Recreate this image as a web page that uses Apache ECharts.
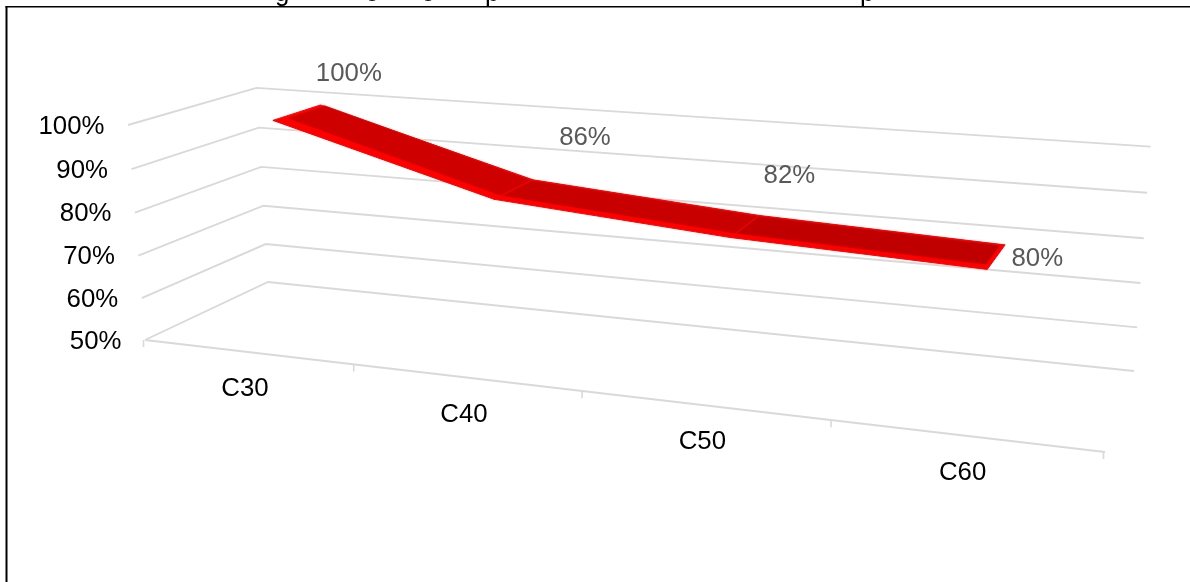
<!DOCTYPE html>
<html>
<head>
<meta charset="utf-8">
<style>
  html, body { margin: 0; padding: 0; background: #fff; }
  #chart { width: 1190px; height: 582px; }
</style>
<script src="https://cdn.jsdelivr.net/npm/echarts@6/dist/echarts.min.js"></script>
</head>
<body>
<div id="chart"></div>
<script>
// Chart values
const categories = ['C30', 'C40', 'C50', 'C60'];
const seriesValues = [100, 86, 82, 80];
const valueLabels = ['100%', '86%', '82%', '80%'];
const tickValues = [50, 60, 70, 80, 90, 100];
const tickLabels = ['50%', '60%', '70%', '80%', '90%', '100%'];

// Room corners on the floor and the top of the near-left edge, in pixels
const floorNearLeft = [145, 340];
const floorNearRight = [1105, 452];
const floorFarRight = [1134, 371];
const floorFarLeft = [268, 282];
const topNearLeft = [128, 125];
const heightPerspective = -0.032;

// Depth range of the ribbon inside the room
const ribbonFar = 0.7;
const ribbonNear = 0.3;
const ribbonSurfaceFar = 0.69;
const ribbonSurfaceNear = 0.365;
const ribbonEndInset = 0.004;

const segmentColors = ['#cf0000', '#c80000', '#c00000'];
const edgeColor = '#ff0000';
const gridColor = '#d9d9d9';
const fontStack = '25.8px "Liberation Sans", Arial, sans-serif';

// Value label offsets from the ribbon's near edge at each category
const labelShifts = [[76, -47], [91, -61], [59, -62], [50, -11]];

// Projective map from room coordinates (along, depth, height, all 0..1) to pixels
function buildProjection() {
  const [x0, y0] = floorNearLeft, [x1, y1] = floorNearRight;
  const [x2, y2] = floorFarRight, [x3, y3] = floorFarLeft;
  const sx = x0 - x1 + x2 - x3, sy = y0 - y1 + y2 - y3;
  const dx1 = x1 - x2, dx2 = x3 - x2, dy1 = y1 - y2, dy2 = y3 - y2;
  const det = dx1 * dy2 - dx2 * dy1;
  const c = (sx * dy2 - dx2 * sy) / det;
  const d = (dx1 * sy - sx * dy1) / det;
  const e = heightPerspective;
  const ax = [x1 - x0 + c * x1, x3 - x0 + d * x3, topNearLeft[0] * (1 + e) - x0];
  const ay = [y1 - y0 + c * y1, y3 - y0 + d * y3, topNearLeft[1] * (1 + e) - y0];
  return (u, v, h) => {
    const w = 1 + c * u + d * v + e * h;
    return [
      (x0 + ax[0] * u + ax[1] * v + ax[2] * h) / w,
      (y0 + ay[0] * u + ay[1] * v + ay[2] * h) / w
    ];
  };
}
const project = buildProjection();

// Read the hidden cartesian axes and turn their pixels into 0..1 room coordinates
function roomPoint(params, api, catIndex, value) {
  const sys = params.coordSys;
  const p = api.coord([catIndex, value]);
  return { u: (p[0] - sys.x) / sys.width, h: (sys.y + sys.height - p[1]) / sys.height };
}

function label(text, pos, fill, align) {
  return {
    type: 'text',
    style: {
      text: text, x: pos[0], y: pos[1], fill: fill, font: fontStack,
      align: align, verticalAlign: 'middle'
    }
  };
}

function renderWallLine(params, api) {
  const r = roomPoint(params, api, 0, api.value(1));
  const near = project(0, 0, r.h);
  const far = project(0, 1, r.h);
  const right = project(1, 1, r.h);
  return {
    type: 'group',
    children: [
      {
        type: 'polyline',
        shape: { points: [near, far, right] },
        style: { stroke: gridColor, lineWidth: 1.9, fill: null, lineJoin: 'miter' }
      },
      label(tickLabels[params.dataIndex], [near[0] - 23.5, near[1] + 1.5], '#000000', 'right')
    ]
  };
}

function renderCategory(params, api) {
  const sys = params.coordSys;
  const i = api.value(0);
  const r = roomPoint(params, api, i, tickValues[0]);
  const half = api.size([1, 0])[0] / 2 / sys.width;
  const base = project(r.u, 0, 0);
  const children = [label(categories[i], [base[0] - 3, base[1] + 37], '#000000', 'center')];
  const edges = [r.u - half];
  if (i === categories.length - 1) edges.push(r.u + half);
  if (i === 0) {
    children.push({
      type: 'line',
      shape: {
        x1: floorNearLeft[0], y1: floorNearLeft[1],
        x2: floorNearRight[0], y2: floorNearRight[1]
      },
      style: { stroke: gridColor, lineWidth: 1.9 }
    });
  }
  edges.forEach((u) => {
    const t = project(u, 0, 0);
    children.push({
      type: 'line',
      shape: { x1: t[0] - 1.5, y1: t[1], x2: t[0] - 1.5, y2: t[1] + 7 },
      style: { stroke: gridColor, lineWidth: 1.6 }
    });
  });
  return { type: 'group', children: children };
}

function renderRibbon(params, api) {
  const i = api.value(0);
  const a = roomPoint(params, api, i, api.value(1));
  const children = [];
  const anchor = project(a.u, ribbonNear, a.h);
  if (i < categories.length - 1) {
    const b = roomPoint(params, api, i + 1, seriesValues[i + 1]);
    const startInset = i === 0 ? ribbonEndInset * 1.6 : 0;
    const endInset = i === categories.length - 2 ? ribbonEndInset : 0;
    children.push({
      type: 'polygon',
      shape: {
        points: [
          project(a.u, ribbonNear, a.h), project(a.u, ribbonFar, a.h),
          project(b.u, ribbonFar, b.h), project(b.u, ribbonNear, b.h)
        ]
      },
      style: { fill: edgeColor, stroke: edgeColor, lineWidth: 1, lineJoin: 'round' }
    });
    children.push({
      type: 'polygon',
      shape: {
        points: [
          project(a.u + startInset, ribbonSurfaceNear, a.h),
          project(a.u + startInset, ribbonSurfaceFar, a.h),
          project(b.u - endInset, ribbonSurfaceFar, b.h),
          project(b.u - endInset, ribbonSurfaceNear, b.h)
        ]
      },
      style: { fill: segmentColors[i], stroke: edgeColor, lineWidth: 0.8, lineJoin: 'round' }
    });
  }
  const shift = labelShifts[i];
  children.push(label(valueLabels[i], [anchor[0] + shift[0], anchor[1] + shift[1]], '#595959', 'center'));
  return { type: 'group', children: children };
}

// Lower edge of the heading, which runs off the top of the page above the frame
function headingGlyph(text, left) {
  return {
    type: 'text', x: left, y: 6.5,
    style: { text: text, fill: '#000', font: fontStack, align: 'left', verticalAlign: 'bottom' }
  };
}

const chart = echarts.init(document.getElementById('chart'));
chart.setOption({
  animation: false,
  backgroundColor: '#ffffff',
  grid: { left: 0, top: 0, right: 0, bottom: 0 },
  xAxis: { type: 'category', data: categories, show: false },
  yAxis: { type: 'value', min: 50, max: 100, interval: 10, show: false },
  graphic: [
    { type: 'rect', shape: { x: 5.5, y: 6, width: 2, height: 576 }, style: { fill: '#000' } },
    { type: 'rect', shape: { x: 5.5, y: 6, width: 1184.5, height: 1.6 }, style: { fill: '#000' } },
    headingGlyph('g', 275),
    headingGlyph('o', 365),
    headingGlyph('o', 421),
    headingGlyph('p', 485),
    headingGlyph('p', 860)
  ],
  series: [
    {
      type: 'custom',
      silent: true,
      clip: false,
      renderItem: renderWallLine,
      encode: { x: 0, y: 1 },
      data: tickValues.map((v) => [0, v])
    },
    {
      type: 'custom',
      silent: true,
      clip: false,
      renderItem: renderCategory,
      encode: { x: 0, y: 1 },
      data: categories.map((c, i) => [i, tickValues[0]])
    },
    {
      type: 'custom',
      silent: true,
      clip: false,
      renderItem: renderRibbon,
      encode: { x: 0, y: 1 },
      data: seriesValues.map((v, i) => [i, v])
    }
  ]
});
</script>
</body>
</html>
